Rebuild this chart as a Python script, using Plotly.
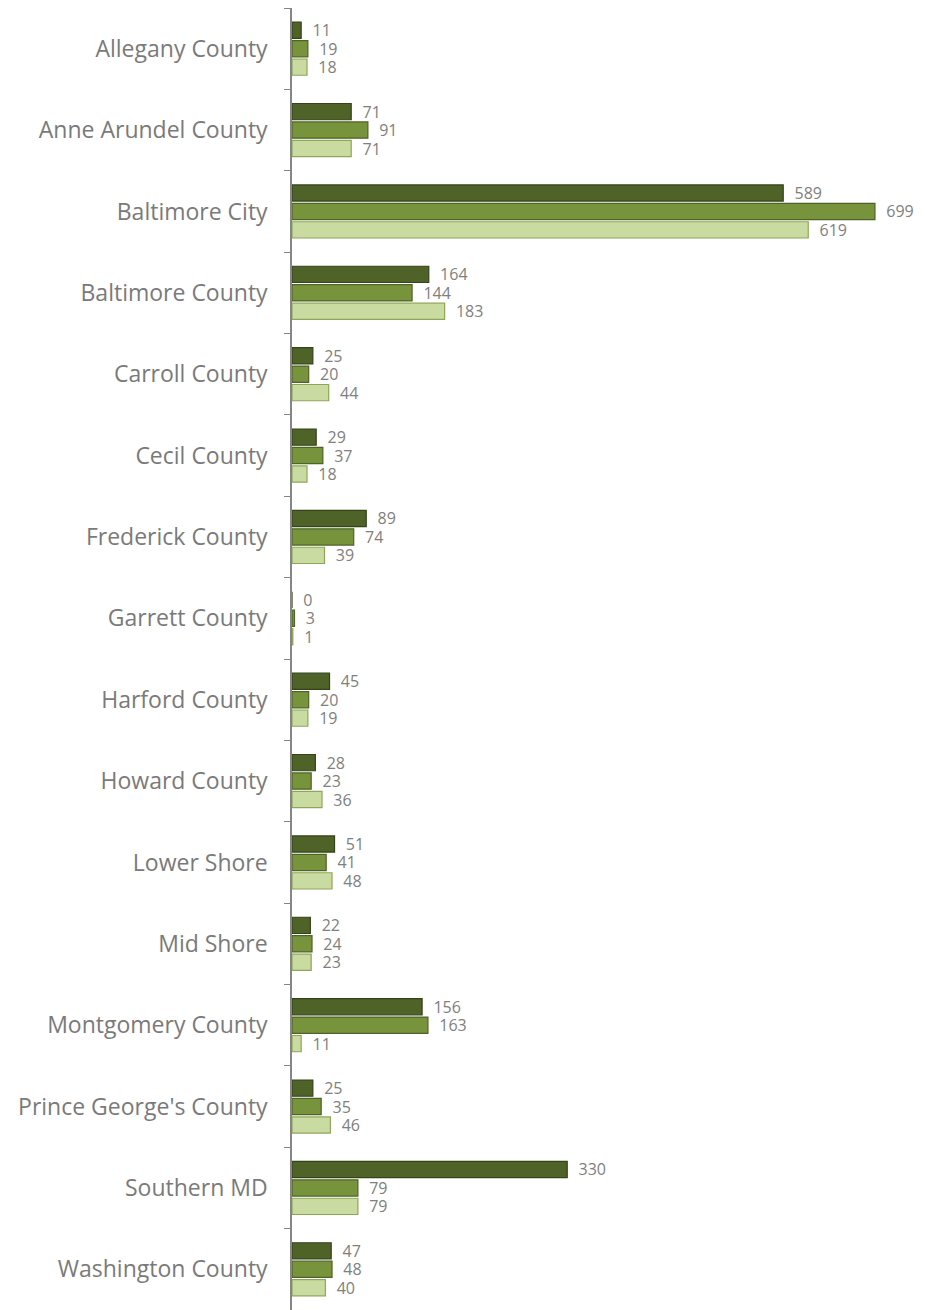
import plotly.graph_objects as go

categories = ["Allegany County", "Anne Arundel County", "Baltimore City", "Baltimore County",
              "Carroll County", "Cecil County", "Frederick County", "Garrett County",
              "Harford County", "Howard County", "Lower Shore", "Mid Shore",
              "Montgomery County", "Prince George's County", "Southern MD", "Washington County"]
series_dark = [11, 71, 589, 164, 25, 29, 89, 0, 45, 28, 51, 22, 156, 25, 330, 47]
series_mid = [19, 91, 699, 144, 20, 37, 74, 3, 20, 23, 41, 24, 163, 35, 79, 48]
series_light = [18, 71, 619, 183, 44, 18, 39, 1, 19, 36, 48, 23, 11, 46, 79, 40]

styles = [
    (series_dark, "#4F6228", "#34431A"),
    (series_mid, "#77933C", "#4F6228"),
    (series_light, "#C9DBA0", "#8FA65A"),
]

fig = go.Figure()
for vals, fill, line in styles:
    fig.add_trace(go.Bar(
        y=categories, x=vals, orientation="h",
        marker=dict(color=fill, line=dict(color=line, width=1.2)),
        text=vals, texttemplate="\u00a0\u00a0%{x}", textposition="outside",
        constraintext="none",
        textfont=dict(family="Open Sans", size=16, color="#808080"),
        outsidetextfont=dict(family="Open Sans", size=16, color="#808080"),
        cliponaxis=False, showlegend=False,
    ))

fig.update_layout(
    width=917, height=1302,
    margin=dict(l=284, r=0, t=0, b=0),
    plot_bgcolor="white", paper_bgcolor="white",
    barmode="group", bargap=0.32, bargroupgap=0.12,
    uniformtext=dict(mode=False),
    font=dict(family="Open Sans", color="#7A7A7A"),
)
fig.update_xaxes(range=[0, 759], showgrid=False, zeroline=False, showticklabels=False,
                 showline=False)
fig.update_yaxes(categoryorder="array", categoryarray=categories, autorange="reversed",
                 showline=True, linecolor="#868686", linewidth=1.5,
                 ticks="outside", tickson="boundaries", ticklen=6, tickcolor="#868686",
                 tickfont=dict(family="Open Sans", size=23, color="#7A7A7A"),
                 ticklabelstandoff=18, showgrid=False)

fig.write_html("out.html")
